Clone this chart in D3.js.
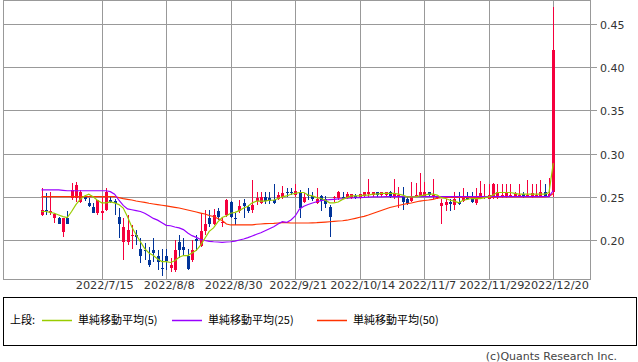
<!DOCTYPE html>
<html><head><meta charset="utf-8">
<script src="https://cdn.jsdelivr.net/npm/d3@7"></script>
<style>body{margin:0;background:#fff}svg{display:block}</style>
</head><body>
<svg id="c" width="638" height="362"></svg>
<script>
const dates = [
"2022/6/27","2022/6/28","2022/6/29","2022/6/30",
"2022/7/1","2022/7/4","2022/7/5","2022/7/6","2022/7/7","2022/7/8","2022/7/11","2022/7/12","2022/7/13","2022/7/14","2022/7/15","2022/7/19","2022/7/20","2022/7/21","2022/7/22","2022/7/25","2022/7/26","2022/7/27","2022/7/28","2022/7/29",
"2022/8/1","2022/8/2","2022/8/3","2022/8/4","2022/8/5","2022/8/8","2022/8/9","2022/8/10","2022/8/12","2022/8/15","2022/8/16","2022/8/17","2022/8/18","2022/8/19","2022/8/22","2022/8/23","2022/8/24","2022/8/25","2022/8/26","2022/8/29","2022/8/30","2022/8/31",
"2022/9/1","2022/9/2","2022/9/5","2022/9/6","2022/9/7","2022/9/8","2022/9/9","2022/9/12","2022/9/13","2022/9/14","2022/9/15","2022/9/16","2022/9/20","2022/9/21","2022/9/22","2022/9/26","2022/9/27","2022/9/28","2022/9/29","2022/9/30",
"2022/10/3","2022/10/4","2022/10/5","2022/10/6","2022/10/7","2022/10/11","2022/10/12","2022/10/13","2022/10/14","2022/10/17","2022/10/18","2022/10/19","2022/10/20","2022/10/21","2022/10/24","2022/10/25","2022/10/26","2022/10/27","2022/10/28","2022/10/31",
"2022/11/1","2022/11/2","2022/11/4","2022/11/7","2022/11/8","2022/11/9","2022/11/10","2022/11/11","2022/11/14","2022/11/15","2022/11/16","2022/11/17","2022/11/18","2022/11/21","2022/11/22","2022/11/24","2022/11/25","2022/11/28","2022/11/29","2022/11/30",
"2022/12/1","2022/12/2","2022/12/5","2022/12/6","2022/12/7","2022/12/8","2022/12/9","2022/12/12","2022/12/13","2022/12/14","2022/12/15","2022/12/16","2022/12/19","2022/12/20"
];
const opens = [
.229,.235,.231,.225,.225,.209,.225,.249,.249,.244,.250,.243,.238,.231,.231,.235,.246,.245,.227,.198,
.198,.205,.206,.190,.189,.177,.189,.182,.168,.181,.168,.165,.198,.192,.181,.177,.201,.193,.210,.225,
.219,.233,.220,.229,.244,.225,.233,.243,.238,.235,.245,.243,.250,.249,.246,.248,.250,.256,.256,.252,
.254,.244,.252,.251,.243,.251,.248,.238,.249,.249,.250,.249,.249,.251,.249,.251,.253,.252,.256,.252,
.252,.256,.250,.251,.250,.247,.245,.250,.251,.251,.255,.250,.249,.239,.240,.244,.240,.244,.245,.250,
.248,.243,.250,.250,.248,.250,.250,.250,.250,.251,.251,.251,.253,.251,.250,.251,.250,.256,.251,.255
];
const highs = [
.260,.254,.256,.231,.227,.226,.234,.266,.267,.258,.252,.249,.243,.246,.250,.260,.250,.247,.237,.225,
.229,.217,.212,.202,.196,.192,.202,.188,.190,.190,.179,.200,.206,.202,.190,.200,.206,.231,.235,.235,
.236,.237,.225,.247,.245,.231,.246,.248,.240,.270,.256,.256,.256,.255,.265,.256,.263,.260,.260,.265,
.258,.254,.260,.256,.260,.252,.251,.240,.251,.257,.255,.256,.253,.253,.253,.256,.271,.256,.256,.256,
.256,.257,.271,.261,.261,.250,.267,.266,.277,.267,.256,.271,.250,.248,.248,.248,.256,.256,.260,.256,
.256,.260,.268,.265,.265,.266,.265,.265,.265,.265,.256,.265,.256,.270,.265,.265,.270,.265,.272,.470
];
const lows = [
.228,.229,.229,.220,.219,.204,.218,.246,.244,.243,.245,.238,.231,.229,.223,.233,.243,.229,.202,.177,
.194,.190,.194,.173,.177,.169,.175,.165,.158,.165,.163,.163,.179,.181,.165,.175,.187,.192,.206,.215,
.217,.223,.215,.227,.225,.217,.231,.225,.231,.231,.240,.242,.242,.242,.242,.246,.248,.250,.252,.250,
.225,.243,.246,.245,.242,.233,.237,.204,.244,.246,.247,.248,.248,.247,.248,.250,.250,.250,.250,.250,
.250,.249,.248,.237,.235,.240,.244,.250,.250,.250,.250,.248,.248,.218,.234,.234,.235,.240,.244,.246,
.243,.240,.248,.248,.248,.248,.248,.249,.249,.250,.250,.250,.249,.250,.249,.250,.250,.250,.250,.250
];
const closes = [
.235,.234,.233,.230,.219,.225,.219,.258,.264,.256,.247,.239,.231,.246,.233,.255,.244,.243,.219,.215,
.212,.206,.203,.182,.187,.171,.185,.175,.166,.176,.171,.189,.188,.188,.167,.189,.199,.210,.219,.219,
.229,.227,.221,.246,.227,.224,.239,.239,.233,.240,.249,.250,.245,.245,.243,.252,.254,.255,.254,.257,
.237,.250,.251,.248,.248,.245,.242,.227,.250,.256,.249,.253,.253,.249,.253,.256,.256,.256,.252,.256,
.256,.250,.254,.252,.244,.243,.250,.252,.256,.255,.252,.252,.250,.243,.244,.242,.248,.242,.249,.247,
.244,.247,.254,.251,.252,.265,.256,.252,.256,.252,.253,.252,.251,.252,.254,.252,.256,.250,.253,.420
];
const ma5 = [
.233,.233,.232,.231,.229,.227,.226,.233,.241,.247,.251,.253,.250,.246,.243,.243,.244,.243,.241,.237,
.227,.215,.206,.198,.190,.185,.182,.178,.175,.175,.174,.176,.180,.182,.182,.185,.188,.194,.202,.210,
.214,.221,.226,.228,.231,.232,.234,.237,.239,.243,.245,.245,.245,.246,.246,.248,.250,.251,.253,.254,
.255,.255,.252,.251,.249,.248,.246,.243,.243,.244,.247,.249,.251,.251,.251,.252,.252,.253,.253,.254,
.254,.254,.254,.253,.252,.250,.250,.250,.251,.252,.253,.253,.252,.249,.248,.246,.245,.243,.246,.247,
.248,.248,.248,.249,.250,.252,.255,.255,.255,.255,.254,.253,.253,.253,.253,.253,.253,.253,.255,.289
];
const ma25 = [
.258,.258,.258,.258,.258,.2575,.257,.257,.257,.257,.257,.257,.257,.257,.257,.257,.256,.253,.246,.240,
.236,.235,.234,.233,.231,.228,.225,.223,.220,.217,.2165,.215,.214,.212,.208,.205,.203,.2006,.1994,.1985,
.198,.1977,.1973,.1977,.198,.1988,.200,.2012,.2027,.2046,.2066,.2084,.2108,.2131,.2154,.2185,.2212,.2203,.2232,.2278,
.2359,.239,.2411,.2428,.2443,.2455,.2463,.2467,.2471,.2475,.2478,.2483,.2486,.2489,.2491,.2493,.2496,.2498,.2498,.250,
.2502,.2502,.2502,.2502,.2502,.2502,.2502,.2502,.2502,.2502,.2502,.2502,.2502,.2502,.2502,.2502,.2502,.2502,.2502,.2502,
.2502,.2502,.2502,.2502,.2502,.2502,.2502,.2502,.2502,.2502,.2502,.2502,.2502,.2502,.2502,.2502,.2502,.2502,.2502,.2573
];
const ma50 = [
.2501,.2501,.2501,.2501,.2501,.2501,.2501,.2501,.2501,.2501,.2501,.2501,.2501,.2501,.2501,.2501,.2501,.2501,.249,.2478,
.2471,.2463,.2451,.2443,.2436,.2425,.2417,.2409,.2402,.2394,.2386,.2378,.237,.2359,.2347,.2336,.2324,.2312,.2301,.2284,
.2272,.2249,.2226,.2185,.2174,.2174,.2174,.2174,.2174,.2174,.2182,.2185,.2189,.2191,.2193,.2197,.22,.22,.2197,.2197,
.2197,.2197,.2197,.2199,.22,.2204,.2207,.2211,.2215,.222,.2223,.2229,.224,.2251,.2263,.2274,.2289,.2307,.2324,.2341,
.2359,.2376,.2388,.2399,.2411,.242,.2428,.244,.2451,.2457,.2463,.2471,.2483,.249,.2492,.2492,.2492,.2492,.2492,.2492,
.2492,.2492,.2492,.2492,.2492,.2492,.2498,.2498,.2498,.2498,.2498,.2498,.2498,.2498,.2498,.2498,.2498,.2498,.2503,.2538
];
const xTickLabels = ["2022/7/15","2022/8/8","2022/8/30","2022/9/21","2022/10/14","2022/11/7","2022/11/29","2022/12/20"];
const yTicks = [0.20,0.25,0.30,0.35,0.40,0.45];
const legendPrefix = "上段:";
const legendLabels = ["単純移動平均(5)","単純移動平均(25)","単純移動平均(50)"];
const copyright = "(c)Quants Research Inc.";

const UP = "#f5003d", DOWN = "#003399";
const MA_COLORS = ["#99cc00","#9900ff","#ff3300"];
const GRID = "#999999";
const FONT = "'DejaVu Sans', sans-serif";
const JFONT = "'Noto Sans CJK JP', sans-serif";

const svg = d3.select("#c");
const L = 3.5, R = 590.5, T = 0.5, B = 279.5;

const x = d3.scalePoint().domain(dates).range([41.5, 553.3]);
const y = d3.scaleLinear().domain([0.20, 0.45]).range([240, 24]);

const g = svg.append("g");
g.selectAll("line.hg").data(yTicks).join("line")
  .attr("x1", L).attr("x2", 597)
  .attr("y1", d => Math.round(y(d)) + 0.5).attr("y2", d => Math.round(y(d)) + 0.5)
  .attr("stroke", GRID).attr("stroke-width", 1).attr("shape-rendering", "crispEdges");
g.selectAll("line.vg").data(xTickLabels).join("line")
  .attr("x1", d => Math.round(x(d)) + 0.5).attr("x2", d => Math.round(x(d)) + 0.5)
  .attr("y1", T).attr("y2", B)
  .attr("stroke", GRID).attr("stroke-width", 1).attr("shape-rendering", "crispEdges");
g.append("rect").attr("x", L).attr("y", T).attr("width", R - L).attr("height", B - T)
  .attr("fill", "none").attr("stroke", GRID).attr("shape-rendering", "crispEdges");

g.selectAll("text.yl").data(yTicks).join("text")
  .attr("x", 600).attr("y", d => Math.round(y(d)) + 4.5)
  .attr("font-family", FONT).attr("font-size", 11).attr("fill", "#333")
  .text(d => d.toFixed(2));
g.selectAll("text.xl").data(xTickLabels).join("text")
  .attr("x", d => x(d) + 3).attr("y", 289)
  .attr("text-anchor", "middle")
  .attr("font-family", FONT).attr("font-size", 11.3).attr("fill", "#333")
  .text(d => d);

const idx = d3.range(dates.length);
const cg = svg.append("g").attr("shape-rendering", "crispEdges");
cg.selectAll("line.w").data(idx).join("line")
  .attr("x1", i => Math.round(x(dates[i])) + 0.5).attr("x2", i => Math.round(x(dates[i])) + 0.5)
  .attr("y1", i => y(highs[i])).attr("y2", i => y(lows[i]))
  .attr("stroke", i => closes[i] >= opens[i] ? UP : DOWN).attr("stroke-width", 1);
cg.selectAll("rect.b").data(idx).join("rect")
  .attr("x", i => Math.round(x(dates[i])) - 1).attr("width", 3)
  .attr("y", i => Math.min(y(opens[i]), y(closes[i])))
  .attr("height", i => Math.max(1, Math.abs(y(opens[i]) - y(closes[i]))))
  .attr("fill", i => closes[i] >= opens[i] ? UP : DOWN);

const series = [ma50, ma25, ma5];
const scol = [MA_COLORS[2], MA_COLORS[1], MA_COLORS[0]];
series.forEach((s, k) => {
  const line = d3.line().x((v, i) => x(dates[i])).y(v => y(v));
  svg.append("path").attr("d", line(s)).attr("fill", "none")
    .attr("stroke", scol[k]).attr("stroke-width", 1.2);
});

const lg = svg.append("g");
lg.append("rect").attr("x", 3.5).attr("y", 297.5).attr("width", 633).attr("height", 48)
  .attr("fill", "none").attr("stroke", "#000").attr("shape-rendering", "crispEdges");
lg.append("text").attr("x", 10).attr("y", 324).attr("font-family", JFONT).attr("font-size", 11)
  .attr("fill", "#000").text(legendPrefix);
const lx = [42, 172, 317];
legendLabels.forEach((t, k) => {
  lg.append("line").attr("x1", lx[k]).attr("x2", lx[k] + 30).attr("y1", 320.5).attr("y2", 320.5)
    .attr("stroke", MA_COLORS[k]).attr("stroke-width", 1.5);
  lg.append("text").attr("x", lx[k] + 36).attr("y", 324).attr("font-family", JFONT).attr("font-size", 11)
    .attr("fill", "#000").text(t);
});
svg.append("text").attr("x", 617).attr("y", 360).attr("text-anchor", "end")
  .attr("font-family", FONT).attr("font-size", 11).attr("fill", "#444").text(copyright);
</script>
</body></html>
